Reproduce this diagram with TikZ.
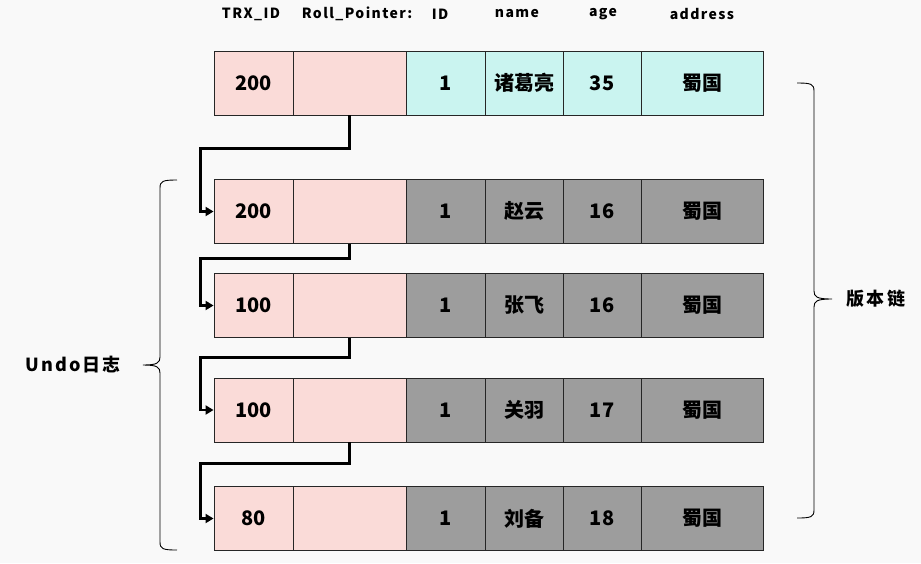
\documentclass[tikz,border=0pt]{standalone}
\usepackage{fontspec}
\setmainfont{Noto Sans CJK SC}
\usetikzlibrary{arrows.meta}
\definecolor{trxpink}{HTML}{FADBD8}
\definecolor{rowcyan}{HTML}{CAF4F0}
\definecolor{rowgray}{HTML}{9D9D9D}
\definecolor{paper}{HTML}{F9F9F9}
\begin{document}
\begin{tikzpicture}[x=1pt, y=-1pt,
  cell/.style ={draw=black!85, line width=0.9pt, minimum height=64pt, inner sep=0pt,
                font=\fontsize{20}{24}\selectfont\bfseries},
  pinkcell/.style ={cell, fill=trxpink},
  cyancell/.style ={cell, fill=rowcyan},
  graycell/.style ={cell, fill=rowgray},
  header/.style ={font=\fontsize{14}{16}\selectfont\bfseries\addfontfeatures{LetterSpace=10}},
  pointer/.style ={line width=2.6pt, -{Triangle[length=8pt,width=9pt]}},
  bracket/.style ={line width=0.9pt},
  sidelabel/.style ={font=\fontsize{18}{20}\selectfont\bfseries\addfontfeatures{LetterSpace=12}}]
 \fill[paper] (0,0) rectangle (921,563);
 % column headers
 \node[header] (hTrx)  at (251,14)  {TRX\_ID};
 \node[header] (hPtr)  at (357,14)  {Roll\_Pointer:};
 \node[header] (hId)   at (440,14)  {ID};
 \node[header] (hName) at (517,14)  {name};
 \node[header] (hAge)  at (603,14)  {age};
 \node[header] (hAddr) at (702,14)  {address};
 % current row
 \node[pinkcell, minimum width=79]  (trxA)  at (253.5,83) {200};
 \node[pinkcell, minimum width=113] (ptrA)  at (349.5,83) {};
 \node[cyancell, minimum width=79]  (idA)   at (445.5,83) {1};
 \node[cyancell, minimum width=78]  (nameA) at (524,83)   {诸葛亮};
 \node[cyancell, minimum width=78]  (ageA)  at (602,83)   {35};
 \node[cyancell, minimum width=122] (addrA) at (702,83)   {蜀国};
 % undo rows
 \node[pinkcell, minimum width=79]  (trxB)  at (253.5,211.5) {200};
 \node[pinkcell, minimum width=113] (ptrB)  at (349.5,211.5) {};
 \node[graycell, minimum width=79]  (idB)   at (445.5,211.5) {1};
 \node[graycell, minimum width=78]  (nameB) at (524,211.5)   {赵云};
 \node[graycell, minimum width=78]  (ageB)  at (602,211.5)   {16};
 \node[graycell, minimum width=122] (addrB) at (702,211.5)   {蜀国};
 \node[pinkcell, minimum width=79]  (trxC)  at (253.5,305.5) {100};
 \node[pinkcell, minimum width=113] (ptrC)  at (349.5,305.5) {};
 \node[graycell, minimum width=79]  (idC)   at (445.5,305.5) {1};
 \node[graycell, minimum width=78]  (nameC) at (524,305.5)   {张飞};
 \node[graycell, minimum width=78]  (ageC)  at (602,305.5)   {16};
 \node[graycell, minimum width=122] (addrC) at (702,305.5)   {蜀国};
 \node[pinkcell, minimum width=79]  (trxD)  at (253.5,410) {100};
 \node[pinkcell, minimum width=113] (ptrD)  at (349.5,410) {};
 \node[graycell, minimum width=79]  (idD)   at (445.5,410) {1};
 \node[graycell, minimum width=78]  (nameD) at (524,410)   {关羽};
 \node[graycell, minimum width=78]  (ageD)  at (602,410)   {17};
 \node[graycell, minimum width=122] (addrD) at (702,410)   {蜀国};
 \node[pinkcell, minimum width=79]  (trxE)  at (253.5,518.5) {80};
 \node[pinkcell, minimum width=113] (ptrE)  at (349.5,518.5) {};
 \node[graycell, minimum width=79]  (idE)   at (445.5,518.5) {1};
 \node[graycell, minimum width=78]  (nameE) at (524,518.5)   {刘备};
 \node[graycell, minimum width=78]  (ageE)  at (602,518.5)   {18};
 \node[graycell, minimum width=122] (addrE) at (702,518.5)   {蜀国};
 % roll pointers
 \draw[pointer] (ptrA.south) -- ++(0,33)   -| ([xshift=-13pt]trxB.west) -- (trxB.west);
 \draw[pointer] (ptrB.south) -- ++(0,14.5) -| ([xshift=-13pt]trxC.west) -- (trxC.west);
 \draw[pointer] (ptrC.south) -- ++(0,19.5) -| ([xshift=-13pt]trxD.west) -- (trxD.west);
 \draw[pointer] (ptrD.south) -- ++(0,21)   -| ([xshift=-13pt]trxE.west) -- (trxE.west);
 % braces
 \draw[bracket] (177,180) .. controls (163,180) and (160,181) .. (160,188) -- (160,357)
   .. controls (160,363) and (157,365) .. (143,365) .. controls (157,365) and (160,367) .. (160,373)
   -- (160,542) .. controls (160,549) and (163,550) .. (177,550);
 \node[sidelabel] (undo) at (73,365) {Undo日志};
 \draw[bracket] (797,83) .. controls (811,83) and (814,84) .. (814,91) -- (814,291)
   .. controls (814,297) and (817,299) .. (832,299) .. controls (817,299) and (814,301) .. (814,307)
   -- (814,510) .. controls (814,517) and (811,518) .. (797,518);
 \node[sidelabel] (chain) at (876,299) {版本链};
\end{tikzpicture}
\end{document}
